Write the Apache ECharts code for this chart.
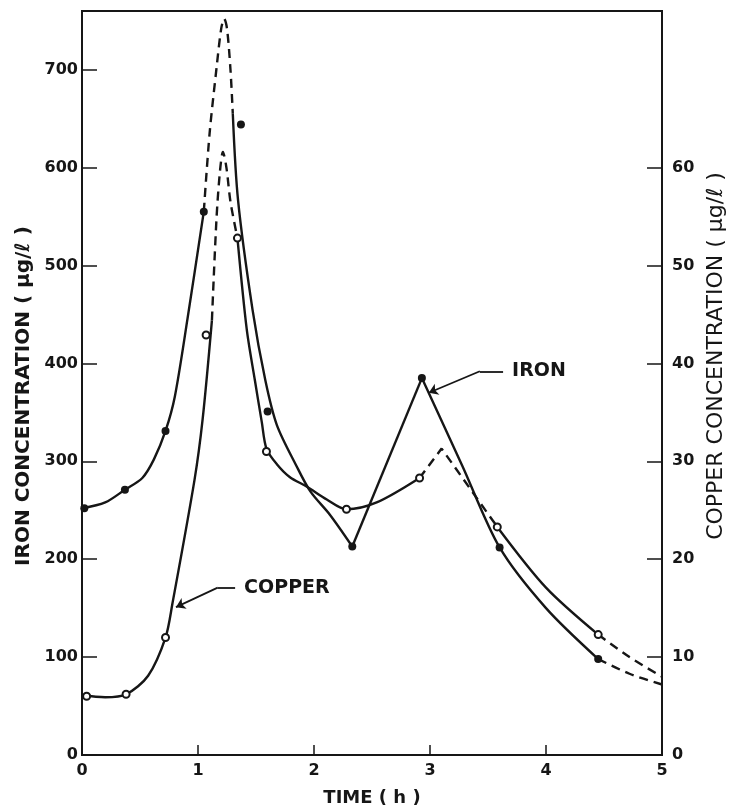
<!DOCTYPE html>
<html>
<head>
<meta charset="utf-8">
<script src="https://cdn.jsdelivr.net/npm/echarts@6/dist/echarts.min.js"></script>
<style>
  html, body { margin: 0; padding: 0; background: #fff; }
  #chart { width: 730px; height: 810px; }
</style>
</head>
<body>
<div id="chart"></div>
<script>
// tick labels
const timeTicks = [0, 1, 2, 3, 4, 5]
const ironTicks = [0, 100, 200, 300, 400, 500, 600, 700]
const copperTicks = [0, 10, 20, 30, 40, 50, 60]

// measured points: [time (h), concentration]
const ironDots = [[0.02, 252], [0.37, 271], [0.72, 331], [1.05, 555], [1.37, 644],
    [1.60, 351], [2.33, 213], [2.93, 385], [3.60, 212], [4.45, 98]]
const copperDots = [[0.04, 6.0], [0.38, 6.2], [0.72, 12.0], [1.07, 42.9], [1.34, 52.8],
    [1.59, 31.0], [2.28, 25.1], [2.91, 28.3], [3.58, 23.3], [4.45, 12.3]]

// iron curve (µg/l)
const ironSolidA = [[0, 252], [0.2, 258], [0.37, 271], [0.52, 283], [0.62, 302], [0.72, 331], [0.80, 366], [0.91, 446], [1.05, 555]]
const ironDashA = [[1.05, 555], [1.10, 635], [1.16, 702], [1.20, 742], [1.225, 752], [1.25, 742], [1.28, 700], [1.30, 655]]
const ironSolidB = [[1.30, 655], [1.345, 567], [1.47, 455], [1.58, 383], [1.68, 337], [1.85, 295], [1.97, 269], [2.14, 245], [2.33, 213]]
const ironSolidC = [[2.33, 213], [2.93, 385]]
const ironSolidD = [[2.93, 385], [3.28, 295], [3.60, 212], [4.0, 150], [4.45, 98]]
const ironDashB = [[4.45, 98], [4.72, 83], [5, 72]]

// copper curve (µg/l)
const copperSolidA = [[0, 6.1], [0.2, 5.9], [0.38, 6.2], [0.57, 8.1], [0.72, 12.0], [0.78, 15.5], [0.97, 28.1], [1.04, 34.3], [1.12, 44.4]]
const copperDashA = [[1.12, 44.4], [1.16, 54.9], [1.19, 59.7], [1.215, 61.6], [1.245, 60.0], [1.28, 56.5], [1.34, 52.8]]
const copperSolidB = [[1.34, 52.8], [1.42, 43.5], [1.49, 38.3], [1.55, 34.0], [1.59, 31.3], [1.68, 29.7], [1.79, 28.4], [1.94, 27.4], [2.11, 26.1], [2.28, 25.1], [2.54, 25.8], [2.91, 28.3]]
const copperDashB = [[2.91, 28.3], [3.10, 31.3], [3.58, 23.3]]
const copperSolidC = [[3.58, 23.3], [4.0, 17.1], [4.45, 12.3]]
const copperDashC = [[4.45, 12.3], [4.72, 10.0], [5, 8.0]]

// label leaders (iron axis units): text end, bend, arrow tip
const ironLeader = [[3.63, 392], [3.43, 392], [2.99, 370]]
const copperLeader = [[1.32, 171], [1.17, 171], [0.81, 151]]
const labelTexts = ['IRON', 'COPPER']

const ink = '#161616'
const font = 'DejaVu Sans'

function seg(data, axis, dashed, smooth) {
    return {
        type: 'line',
        yAxisIndex: axis,
        data: data,
        smooth: smooth,
        showSymbol: false,
        silent: true,
        lineStyle: { color: ink, width: 2.4, type: dashed ? [9, 6] : 'solid' },
        z: 2
    }
}

const chart = echarts.init(document.getElementById('chart'))

chart.setOption({
    animation: false,
    backgroundColor: '#fff',
    grid: {
        left: 82, top: 11, width: 580, height: 744, outerBoundsMode: 'none',
        show: true, borderColor: ink, borderWidth: 2
    },
    xAxis: {
        type: 'value', min: 0, max: 5, interval: 1,
        name: 'TIME ( h )', nameLocation: 'middle', nameGap: 34,
        nameTextStyle: { fontFamily: font, fontWeight: 'bold', fontSize: 18, color: ink },
        axisLine: { lineStyle: { color: ink, width: 2 } },
        axisTick: { inside: true, length: 10, lineStyle: { color: ink, width: 1.5 } },
        axisLabel: { margin: 8, fontFamily: font, fontWeight: 'bold', fontSize: 16, color: ink },
        splitLine: { show: false }
    },
    yAxis: [
        {
            type: 'value', min: 0, max: 760,
            name: 'IRON CONCENTRATION ( µg/ℓ )', nameLocation: 'middle', nameGap: 46,
            nameTextStyle: { fontFamily: font, fontWeight: 'bold', fontSize: 20, color: ink, padding: [0, 26, 0, 0] },
            axisLine: { lineStyle: { color: ink, width: 2 } },
            axisTick: { inside: true, length: 15, customValues: ironTicks, lineStyle: { color: ink, width: 1.5 } },
            axisLabel: { margin: 4, customValues: ironTicks, fontFamily: font, fontWeight: 'bold', fontSize: 16, color: ink },
            splitLine: { show: false }
        },
        {
            type: 'value', min: 0, max: 76, position: 'right',
            name: 'COPPER CONCENTRATION ( µg/ℓ )', nameLocation: 'middle', nameGap: 27,
            nameTextStyle: { fontFamily: font, fontSize: 22, color: ink, padding: [0, 0, 0, 54] },
            axisLine: { lineStyle: { color: ink, width: 2 } },
            axisTick: { inside: true, length: 15, customValues: copperTicks, lineStyle: { color: ink, width: 1.5 } },
            axisLabel: { margin: 10, customValues: copperTicks, fontFamily: font, fontWeight: 'bold', fontSize: 16, color: ink },
            splitLine: { show: false }
        }
    ],
    series: [
        seg(ironSolidA, 0, false, 0.3),
        seg(ironDashA, 0, true, 0.3),
        seg(ironSolidB, 0, false, 0.3),
        seg(ironSolidC, 0, false, false),
        seg(ironSolidD, 0, false, 0.3),
        seg(ironDashB, 0, true, 0.3),
        seg(copperSolidA, 1, false, 0.3),
        seg(copperDashA, 1, true, 0.3),
        seg(copperSolidB, 1, false, 0.3),
        seg(copperDashB, 1, true, false),
        seg(copperSolidC, 1, false, 0.3),
        seg(copperDashC, 1, true, 0.3),
        {
            name: 'Iron', type: 'scatter', yAxisIndex: 0, data: ironDots,
            symbol: 'circle', symbolSize: 8, itemStyle: { color: ink, opacity: 1 }, z: 5
        },
        {
            name: 'Copper', type: 'scatter', yAxisIndex: 1, data: copperDots,
            symbol: 'circle', symbolSize: 7, itemStyle: { color: '#fff', borderColor: ink, borderWidth: 2, opacity: 1 }, z: 5
        },
        {
            // horizontal part of the leaders
            type: 'lines', coordinateSystem: 'cartesian2d', yAxisIndex: 0,
            symbol: 'none', lineStyle: { color: ink, width: 1.8, opacity: 1 },
            data: [ironLeader, copperLeader].map(l => ({ coords: [l[0], l[1]] })), z: 4
        },
        {
            // slanted part with arrow head
            type: 'lines', coordinateSystem: 'cartesian2d', yAxisIndex: 0,
            symbol: ['none', 'arrow'], symbolSize: 9, lineStyle: { color: ink, width: 1.8, opacity: 1 },
            data: [ironLeader, copperLeader].map(l => ({ coords: [l[1], l[2]] })), z: 4
        },
        {
            type: 'scatter', yAxisIndex: 0, symbolSize: 0, silent: true,
            itemStyle: { opacity: 1 },
            data: [ironLeader[0], copperLeader[0]],
            label: {
                show: true, position: 'right', distance: 9,
                formatter: (p) => labelTexts[p.dataIndex],
                fontFamily: font, fontWeight: 'bold', fontSize: 19, color: ink
            }
        }
    ]
})
</script>
</body>
</html>
